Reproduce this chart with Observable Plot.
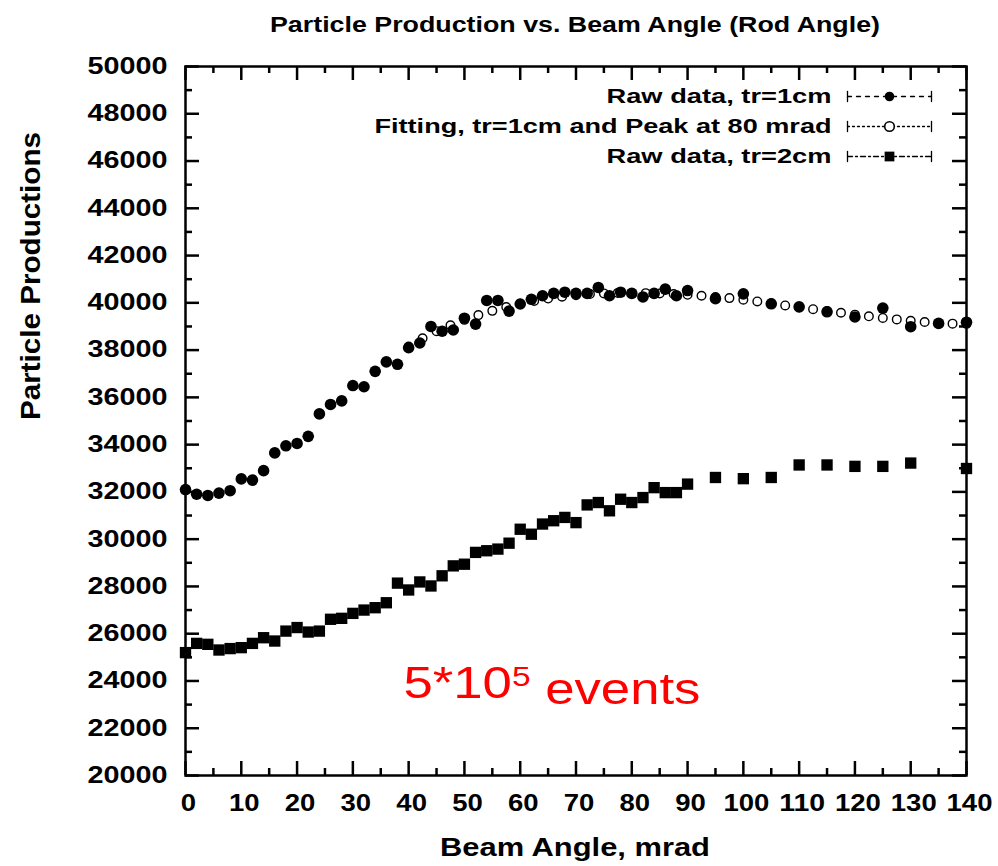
<!DOCTYPE html>
<html>
<head>
<meta charset="utf-8">
<script src="https://cdn.jsdelivr.net/npm/d3@7"></script>
<script src="https://cdn.jsdelivr.net/npm/@observablehq/plot@0.6"></script>
<style>
  html, body { margin: 0; padding: 0; background: #fff; }
  #chart { width: 998px; height: 866px; }
</style>
</head>
<body>
<div id="chart"></div>
<script>
// ---------- data ----------
const titleText = "Particle Production vs. Beam Angle (Rod Angle)";
const xLabelText = "Beam Angle, mrad";
const yLabelText = "Particle Productions";

const xTicks = [0, 10, 20, 30, 40, 50, 60, 70, 80, 90, 100, 110, 120, 130, 140];
const xMinorTicks = [5, 15, 25, 35, 45, 55, 65, 75, 85, 95, 105, 115, 125, 135];
const yTicks = [20000, 22000, 24000, 26000, 28000, 30000, 32000, 34000, 36000, 38000, 40000, 42000, 44000, 46000, 48000, 50000];
const yMinorTicks = [21000, 23000, 25000, 27000, 29000, 31000, 33000, 35000, 37000, 39000, 41000, 43000, 45000, 47000, 49000];

// Raw data, tr=1cm (filled circles)
const raw1Angle = [0, 2, 4, 6, 8, 10, 12, 14, 16, 18, 20, 22, 24, 26, 28, 30, 32, 34, 36, 38, 40, 42, 44, 46, 48, 50, 52, 54, 56, 58, 60, 62, 64, 66, 68, 70, 72, 74, 76, 78, 80, 82, 84, 86, 88, 90, 95, 100, 105, 110, 115, 120, 125, 130, 135, 140];
const raw1Value = [32100, 31900, 31850, 31950, 32050, 32550, 32500, 32900, 33650, 33950, 34050, 34350, 35300, 35700, 35850, 36500, 36450, 37100, 37500, 37400, 38100, 38300, 39000, 38800, 38850, 39350, 39100, 40100, 40100, 39650, 39950, 40150, 40300, 40400, 40450, 40400, 40400, 40650, 40300, 40450, 40400, 40250, 40400, 40580, 40300, 40520, 40180, 40380, 39960, 39830, 39620, 39400, 39780, 38990, 39130, 39180];

// Fitting, tr=1cm and peak at 80 mrad (open circles)
const fitAngle = [40, 42.5, 45, 47.5, 50, 52.5, 55, 57.5, 60, 62.5, 65, 67.5, 70, 72.5, 75, 77.5, 80, 82.5, 85, 87.5, 90, 92.5, 95, 97.5, 100, 102.5, 105, 107.5, 110, 112.5, 115, 117.5, 120, 122.5, 125, 127.5, 130, 132.5, 135, 137.5, 140];
const fitValue = [38150, 38500, 38800, 39050, 39280, 39480, 39660, 39820, 39960, 40080, 40180, 40260, 40320, 40370, 40400, 40420, 40420, 40410, 40400, 40370, 40340, 40300, 40250, 40200, 40130, 40060, 39980, 39890, 39810, 39730, 39650, 39580, 39500, 39430, 39360, 39300, 39240, 39190, 39150, 39120, 39110];

// Raw data, tr=2cm (filled squares)
const raw2Angle = [0, 2, 4, 6, 8, 10, 12, 14, 16, 18, 20, 22, 24, 26, 28, 30, 32, 34, 36, 38, 40, 42, 44, 46, 48, 50, 52, 54, 56, 58, 60, 62, 64, 66, 68, 70, 72, 74, 76, 78, 80, 82, 84, 86, 88, 90, 95, 100, 105, 110, 115, 120, 125, 130, 140];
const raw2Value = [25200, 25590, 25550, 25310, 25370, 25410, 25590, 25830, 25690, 26110, 26260, 26070, 26110, 26610, 26650, 26860, 27000, 27100, 27310, 28140, 27850, 28190, 28020, 28450, 28870, 28940, 29440, 29510, 29580, 29830, 30420, 30210, 30640, 30780, 30920, 30700, 31450, 31550, 31200, 31690, 31550, 31760, 32180, 31970, 31970, 32330, 32610, 32560, 32610, 33140, 33140, 33080, 33080, 33220, 32990];

const legendLabels = ["Raw data, tr=1cm", "Fitting, tr=1cm and Peak at 80 mrad", "Raw data, tr=2cm"];
const legendSymbols = ["circle", "circle", "square"];
const legendFilled = [true, false, true];
const legendDash = ["4,5", "2,3", "5,3,2,3"];

const noteMain = "5*10";
const noteSup = "5";
const noteRest = " events";

// ---------- build ----------
const W = 998, H = 866;
const mL = 185, mR = 32, mT = 66, mB = 91;
const plotW = W - mL - mR, plotH = H - mT - mB;
const FONT = "'Liberation Sans', Arial, Helvetica, sans-serif";
const majorLen = 14, minorLen = 7, lw = 2.5;

const raw1 = raw1Angle.map((a, i) => ({angle: a, value: raw1Value[i]}));
const fitData = fitAngle.map((a, i) => ({angle: a, value: fitValue[i]}));
const raw2 = raw2Angle.map((a, i) => ({angle: a, value: raw2Value[i]}));

const lineShape = {draw(context, l) { context.moveTo(0, 0); context.lineTo(0, -l); }};

const legendMarks = legendLabels.flatMap((label, i) => {
  const dy = 30 + 30 * i;
  return [
    Plot.text([label], {frameAnchor: "top-right", lineAnchor: "middle", dx: -135, dy, textAnchor: "end", text: d => d,
      fontSize: 21, fontWeight: "bold", fontFamily: FONT, fill: "black"}),
    Plot.vector([label], {frameAnchor: "top-right", dx: -35, dy, rotate: 90, anchor: "end", length: 84,
      shape: lineShape, stroke: "black", strokeWidth: 1.3, strokeDasharray: legendDash[i]}),
    Plot.vector([label], {frameAnchor: "top-right", dx: -35, dy, rotate: 0, anchor: "middle", length: 10,
      shape: lineShape, stroke: "black", strokeWidth: 1.3}),
    Plot.vector([label], {frameAnchor: "top-right", dx: -119, dy, rotate: 0, anchor: "middle", length: 10,
      shape: lineShape, stroke: "black", strokeWidth: 1.3}),
    Plot.dot([label], {frameAnchor: "top-right", dx: -77, dy, symbol: legendSymbols[i],
      r: legendSymbols[i] === "square" ? 5.5 : 4.8,
      fill: legendFilled[i] ? "black" : "white", stroke: "black", strokeWidth: legendFilled[i] ? 0 : 1.6})
  ];
});

const chart = Plot.plot({
  width: W, height: H,
  marginLeft: mL, marginRight: mR, marginTop: mT, marginBottom: mB,
  style: {background: "white", fontFamily: FONT, overflow: "visible"},
  x: {domain: [0, 140], axis: null},
  y: {domain: [20000, 50000], axis: null},
  marks: [
    // data
    Plot.dot(raw2, {x: "angle", y: "value", symbol: "square", r: 6.4, fill: "black", stroke: null}),
    Plot.dot(raw1, {x: "angle", y: "value", symbol: "circle", r: 5.8, fill: "black", stroke: null}),
    Plot.dot(fitData, {x: "angle", y: "value", symbol: "circle", r: 4.3, fill: "none", stroke: "black", strokeWidth: 1.4}),
    // ticks (inward, all four sides)
    Plot.tickX(xTicks, {x: d => d, insetTop: plotH - majorLen, stroke: "black", strokeWidth: lw}),
    Plot.tickX(xTicks, {x: d => d, insetBottom: plotH - majorLen, stroke: "black", strokeWidth: lw}),
    Plot.tickX(xMinorTicks, {x: d => d, insetTop: plotH - minorLen, stroke: "black", strokeWidth: lw}),
    Plot.tickX(xMinorTicks, {x: d => d, insetBottom: plotH - minorLen, stroke: "black", strokeWidth: lw}),
    Plot.tickY(yTicks, {y: d => d, insetRight: plotW - majorLen, stroke: "black", strokeWidth: lw}),
    Plot.tickY(yTicks, {y: d => d, insetLeft: plotW - majorLen, stroke: "black", strokeWidth: lw}),
    Plot.tickY(yMinorTicks, {y: d => d, insetRight: plotW - minorLen, stroke: "black", strokeWidth: lw}),
    Plot.tickY(yMinorTicks, {y: d => d, insetLeft: plotW - minorLen, stroke: "black", strokeWidth: lw}),
    Plot.frame({stroke: "black", strokeWidth: lw}),
    // tick labels
    Plot.text(yTicks, {y: d => d, frameAnchor: "left", lineAnchor: "middle", dx: -18, textAnchor: "end", text: d => String(d),
      fontSize: 23, fontWeight: "bold", fontFamily: FONT, fill: "black"}),
    Plot.text(xTicks, {x: d => d, frameAnchor: "bottom", lineAnchor: "middle", dy: 28, dx: 3, text: d => String(d),
      fontSize: 23, fontWeight: "bold", fontFamily: FONT, fill: "black"}),
    // titles
    Plot.text([titleText], {frameAnchor: "top", lineAnchor: "middle", dy: -42, dx: -1, text: d => d,
      fontSize: 22, fontWeight: "bold", fontFamily: FONT, fill: "black"}),
    Plot.text([xLabelText], {frameAnchor: "bottom", lineAnchor: "middle", dy: 72, dx: -1, text: d => d,
      fontSize: 25, fontWeight: "bold", fontFamily: FONT, fill: "black"}),
    Plot.text([yLabelText], {frameAnchor: "left", lineAnchor: "middle", dx: -154, dy: -1, rotate: -90, text: d => d,
      fontSize: 27, fontWeight: "bold", fontFamily: FONT, fill: "black"}),
    // annotation
    Plot.text([noteMain + noteSup + noteRest], {frameAnchor: "bottom-left", lineAnchor: "middle", dx: 218, dy: -92, textAnchor: "start",
      text: d => d, fontSize: 44, fontFamily: FONT, fill: "#ff0000"}),
    ...legendMarks
  ]
});

document.getElementById("chart").appendChild(chart);

// ---------- text width fitting (the reference font is horizontally stretched) ----------
const targetLengths = new Map([
  [titleText, 610],
  [xLabelText, 270],
  [yLabelText, 288],
  [legendLabels[0], 225],
  [legendLabels[1], 457],
  [legendLabels[2], 225]
]);
const noteFull = noteMain + noteSup + noteRest;
d3.select(chart).selectAll("text").each(function() {
  const s = this.textContent;
  const t = d3.select(this);
  if (s === noteFull) {
    t.text(null);
    t.append("tspan").text(noteMain);
    t.append("tspan").attr("dy", "-0.42em").attr("font-size", "28").text(noteSup);
    t.append("tspan").attr("dy", "0.42em").text(noteRest);
    t.attr("textLength", 297).attr("lengthAdjust", "spacingAndGlyphs");
  } else if (targetLengths.has(s)) {
    t.attr("textLength", targetLengths.get(s)).attr("lengthAdjust", "spacingAndGlyphs");
  } else if (/^\d+$/.test(s)) {
    const per = s.length === 5 ? 16 : 15.3;
    t.attr("textLength", s.length * per).attr("lengthAdjust", "spacingAndGlyphs");
  }
});
</script>
</body>
</html>
